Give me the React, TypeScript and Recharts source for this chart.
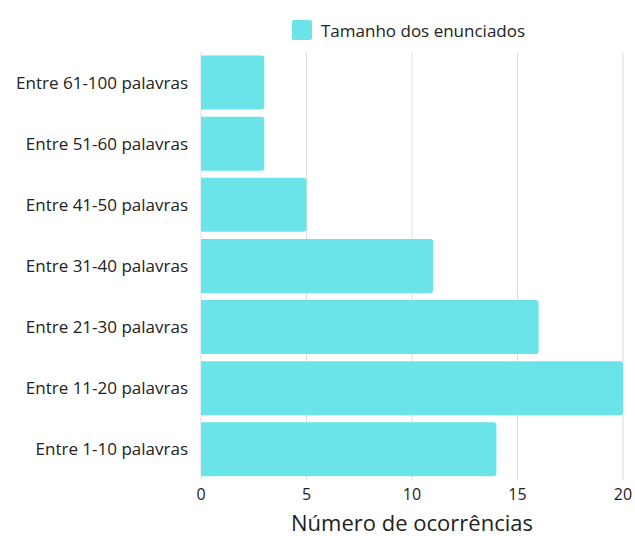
import { Bar, BarChart, CartesianGrid, Legend, XAxis, YAxis } from 'recharts'

const categorias = [
  'Entre 61-100 palavras',
  'Entre 51-60 palavras',
  'Entre 41-50 palavras',
  'Entre 31-40 palavras',
  'Entre 21-30 palavras',
  'Entre 11-20 palavras',
  'Entre 1-10 palavras',
]
const ocorrencias = [3, 3, 5, 11, 16, 20, 14]
const ticksX = [0, 5, 10, 15, 20]
const serieNome = 'Tamanho dos enunciados'

const COR = '#6ae4e8'
const FONTE = '"Open Sans", "Noto Sans", sans-serif'

const data = categorias.map((c, i) => ({ faixa: c, n: ocorrencias[i] }))

function LegendaTopo() {
  return (
    <div style={{ display: 'flex', alignItems: 'center', fontFamily: FONTE, fontSize: 17, color: '#222', height: 24 }}>
      <span
        style={{ width: 20, height: 20, background: COR, borderRadius: 2, marginRight: 9, display: 'inline-block' }}
      />
      <span>{serieNome}</span>
    </div>
  )
}

export default function App() {
  return (
    <div style={{ position: 'absolute', left: 0, top: 0, width: 635, height: 536, background: '#fff' }}>
      <BarChart
        width={635}
        height={536}
        data={data}
        layout="vertical"
        margin={{ top: 28, right: 12, left: 0, bottom: 0 }}
        barCategoryGap={3.5}
      >
        <CartesianGrid horizontal={false} stroke="#dedede" />
        <XAxis
          type="number"
          domain={[0, 20]}
          ticks={ticksX}
          axisLine={false}
          tickLine={false}
          height={56}
          tickMargin={3}
          tick={{ fill: '#222', fontSize: 16, fontFamily: FONTE }}
          label={{
            value: 'Número de ocorrências',
            position: 'insideBottom',
            offset: 5,
            fill: '#222',
            fontSize: 22,
            fontFamily: FONTE,
          }}
        />
        <YAxis
          type="category"
          dataKey="faixa"
          width={201}
          axisLine={false}
          tickLine={false}
          tickMargin={7}
          tick={{ fill: '#222', fontSize: 17, fontFamily: FONTE }}
        />
        <Legend
          verticalAlign="top"
          content={<LegendaTopo />}
          wrapperStyle={{ top: 18, left: 292, width: 'auto' }}
        />
        <Bar dataKey="n" name={serieNome} fill={COR} radius={[0, 3, 3, 0]} isAnimationActive={false} />
      </BarChart>
    </div>
  )
}
